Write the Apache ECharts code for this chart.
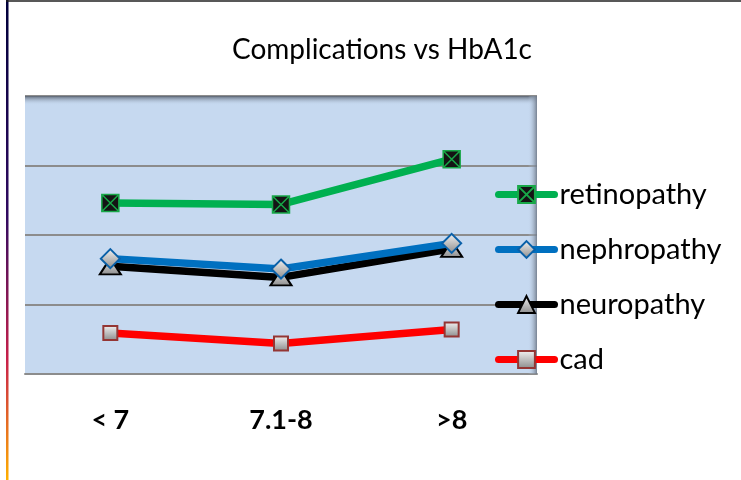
<!DOCTYPE html>
<html><head><meta charset="utf-8">
<script src="https://cdn.jsdelivr.net/npm/echarts@6/dist/echarts.min.js"></script>
<style>html,body{margin:0;padding:0;background:#fff}#c{width:741px;height:480px}</style>
</head><body><div id="c"></div>
<script>
const categories = ['< 7', '7.1-8', '>8'];
const retinopathy = [24.6, 24.4, 30.9];
const nephropathy = [16.6, 15.1, 18.8];
const neuropathy = [15.5, 13.9, 18.0];
const cad = [5.9, 4.4, 6.4];

const chart = echarts.init(document.getElementById('c'));
const G = echarts.graphic;
const grayGrad = new G.LinearGradient(0,0,0,1,[{offset:0,color:'#f4f4f4'},{offset:1,color:'#8a8a8a'}]);
const FONT = 'Lato';

function mk(name, data, color, symbol, size, itemStyle, z) {
  return {
    name, type:'line', data, z,
    symbol, symbolSize:size,
    lineStyle:{color, width:7.5},
    itemStyle,
    emphasis:{disabled:true}
  };
}

chart.setOption({
  animation:false,
  title:{text:'Complications vs HbA1c', left:377, top:31, textAlign:'center',
    textStyle:{fontFamily:FONT, fontWeight:'normal', fontSize:28, color:'#000'}},
  grid:{left:25, right:204, top:96, bottom:106, show:true, backgroundColor:'#c6d9f0', borderWidth:0},
  xAxis:{type:'category', data:categories, boundaryGap:true,
    axisLine:{show:true, lineStyle:{color:'#8c8c8c', width:2}},
    axisTick:{show:false},
    axisLabel:{margin:33, fontFamily:FONT, fontWeight:'bold', fontSize:27, color:'#000'}},
  yAxis:{type:'value', min:0, max:40, interval:10,
    axisLine:{show:false}, axisTick:{show:false}, axisLabel:{show:false},
    splitLine:{lineStyle:{color:'#8c8c8c', width:2}}},
  legend:{orient:'vertical', left:490, top:174, itemWidth:56, itemHeight:21, itemGap:24,
    lineStyle:{width:7, cap:'round'},
    textStyle:{fontFamily:FONT, fontSize:29, color:'#000', lineHeight:31},
    data:['retinopathy','nephropathy','neuropathy','cad']},
  series:[
    mk('cad', cad, '#ff0000', 'rect', 14, {color:grayGrad, borderColor:'#943634', borderWidth:2}, 2),
    mk('neuropathy', neuropathy, '#000000', 'triangle', [21,16], {color:grayGrad, borderColor:'#000', borderWidth:2}, 3),
    mk('nephropathy', nephropathy, '#0070c0', 'diamond', 19, {color:grayGrad, borderColor:'#0a60a8', borderWidth:2}, 4),
    mk('retinopathy', retinopathy, '#00b050', 'path://M0,0L10,0L10,10L0,10ZM0,0L10,10M10,0L0,10', 17, {color:'#141414', borderColor:'#18a848', borderWidth:1.5}, 5)
  ],
  graphic:[
    {type:'rect', shape:{x:6, y:0, width:2.5, height:480}, style:{fill:new G.LinearGradient(0,0,0,1,[
      {offset:0,color:'#00003a'},{offset:0.45,color:'#300a60'},{offset:0.75,color:'#c8204a'},{offset:1,color:'#ffb000'}])}, z:100},
    {type:'line', shape:{x1:6, y1:1, x2:741, y2:1}, style:{stroke:'#202020', lineWidth:1.5}, z:100},
    {type:'rect', shape:{x:25, y:96, width:512, height:9}, style:{fill:new G.LinearGradient(0,0,0,1,[
      {offset:0,color:'rgba(90,100,115,0.95)'},{offset:1,color:'rgba(198,217,240,0)'}])}, z:1},
    {type:'rect', shape:{x:528, y:96, width:9, height:278}, style:{fill:new G.LinearGradient(0,0,1,0,[
      {offset:0,color:'rgba(198,217,240,0)'},{offset:1,color:'rgba(110,120,135,0.9)'}])}, z:1}
  ]
});
</script></body></html>
